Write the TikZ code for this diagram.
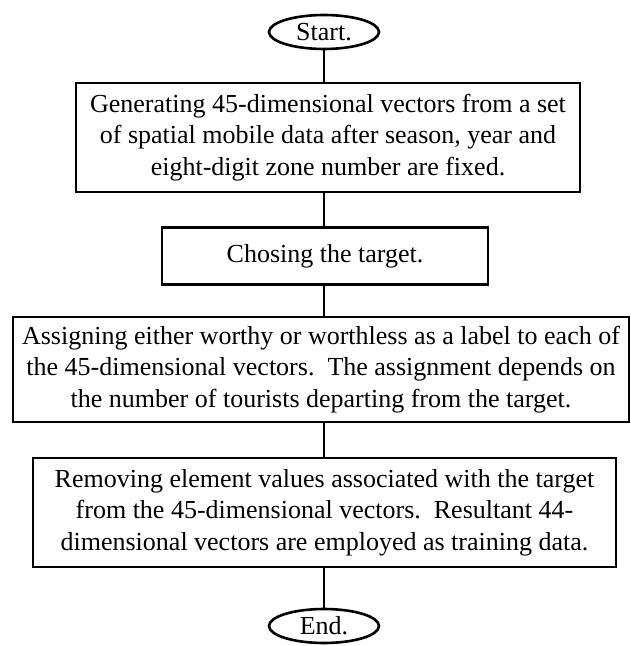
\documentclass[tikz,border=0pt]{standalone}
\usepackage{fontspec}
\setmainfont{Liberation Serif}
\usetikzlibrary{shapes.geometric}
\begin{document}
\begin{tikzpicture}[x=1pt,y=1pt,
  base/.style={draw=black,line width=2.6pt,inner sep=0pt,align=center,
    font=\fontsize{26}{31.5}\selectfont},
  term/.style={base,ellipse,minimum width=110pt,minimum height=34pt},
  proc/.style={base,rectangle},
  conn/.style={line width=2.6pt}]
\useasboundingbox (0,0) rectangle (631,646);
\node[term] (start) at (324,614) {Start.};
\node[proc,minimum width=504pt,minimum height=109pt] (b1) at (328,508.5)
  {Generating 45-dimensional vectors from a set\\of spatial mobile data after season, year and\\eight-digit zone number are fixed.};
\node[proc,minimum width=326pt,minimum height=57pt] (b2) at (325,390)
  {Chosing the target.};
\node[proc,minimum width=616pt,minimum height=105pt] (b3) at (321,276.5)
  {Assigning either worthy or worthless as a label to each of\\the 45-dimensional vectors.\ \ The assignment depends on\\the number of tourists departing from the target.};
\node[proc,minimum width=583pt,minimum height=109pt] (b4) at (324.5,133.5)
  {Removing element values associated with the target\\from the 45-dimensional vectors.\ \ Resultant 44-\\dimensional vectors are employed as training data.};
\node[term] (end) at (324,20) {End.};
\draw[conn] (start.south) -- (start.south |- b1.north);
\draw[conn] (start.south |- b1.south) -- (start.south |- b2.north);
\draw[conn] (start.south |- b2.south) -- (start.south |- b3.north);
\draw[conn] (start.south |- b3.south) -- (start.south |- b4.north);
\draw[conn] (start.south |- b4.south) -- (end.north);
\end{tikzpicture}
\end{document}
